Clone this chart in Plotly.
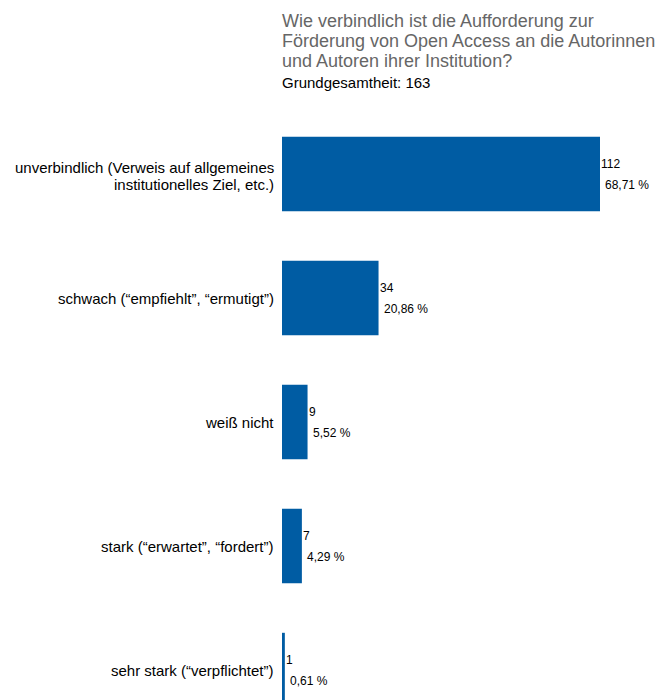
import plotly.graph_objects as go

# Answer categories (top to bottom), counts and shares
category_lines = [
    ["unverbindlich (Verweis auf allgemeines", "institutionelles Ziel, etc.)"],
    ["schwach (“empfiehlt”, “ermutigt”)"],
    ["weiß nicht"],
    ["stark (“erwartet”, “fordert”)"],
    ["sehr stark (“verpflichtet”)"],
]
categories = [" ".join(lines) for lines in category_lines]
counts = [112, 34, 9, 7, 1]
percents = ["68,71 %", "20,86 %", "5,52 %", "4,29 %", "0,61 %"]

title_lines = [
    "Wie verbindlich ist die Aufforderung zur",
    "Förderung von Open Access an die Autorinnen",
    "und Autoren ihrer Institution?",
]
subtitle_text = "Grundgesamtheit: 163"

BAR_COLOR = "#005ca3"
FONT = "Liberation Sans, Arial, sans-serif"
PLOT_H = 620  # height of the plotting area in px
LINE_GAP = 17  # spacing of wrapped category label lines

fig = go.Figure(
    go.Bar(
        x=counts,
        y=categories,
        orientation="h",
        marker=dict(color=BAR_COLOR, line=dict(width=0)),
        hoverinfo="skip",
    )
)

# category labels, right-aligned left of the bars
for cat, lines in zip(categories, category_lines):
    n = len(lines)
    for i, line in enumerate(lines):
        shift = (n - 1) / 2 * LINE_GAP - i * LINE_GAP - (1.5 if n > 1 else 0)
        fig.add_annotation(x=0, y=cat, xref="paper", yref="y", text=line,
                           showarrow=False, xanchor="right", yanchor="middle",
                           xshift=-6, yshift=shift,
                           font=dict(size=15, color="#000"))

# value labels next to each bar end: count above, percentage below
for cat, n, p in zip(categories, counts, percents):
    fig.add_annotation(x=n, y=cat, xref="x", yref="y", text=str(n),
                       showarrow=False, xanchor="left", yanchor="middle",
                       xshift=-1, yshift=10.5, font=dict(size=12, color="#000"))
    fig.add_annotation(x=n, y=cat, xref="x", yref="y", text=p,
                       showarrow=False, xanchor="left", yanchor="middle",
                       xshift=3, yshift=-10.5, font=dict(size=12, color="#000"))

# title block above the plot
for off, line in zip([91, 71, 51], title_lines):
    fig.add_annotation(x=0, y=1 + off / PLOT_H, xref="paper", yref="paper",
                       text=line, showarrow=False, xanchor="left",
                       yanchor="middle", xshift=-2,
                       font=dict(size=18, color="#666666"))
fig.add_annotation(x=0, y=1 + 29 / PLOT_H, xref="paper", yref="paper",
                   text=subtitle_text, showarrow=False, xanchor="left",
                   yanchor="middle", xshift=-2,
                   font=dict(size=15, color="#000000"))

fig.update_layout(
    width=661,
    height=732,
    margin=dict(l=282, r=0, t=112, b=0),
    paper_bgcolor="white",
    plot_bgcolor="white",
    bargap=0.4,
    showlegend=False,
    font=dict(family=FONT, size=13, color="#000"),
    xaxis=dict(range=[0, 112 * 379 / 318], visible=False, fixedrange=True),
    yaxis=dict(autorange="reversed", showgrid=False, showline=False,
               ticks="", showticklabels=False, zeroline=False),
)

fig.write_html("out.html", config={"displayModeBar": False})
